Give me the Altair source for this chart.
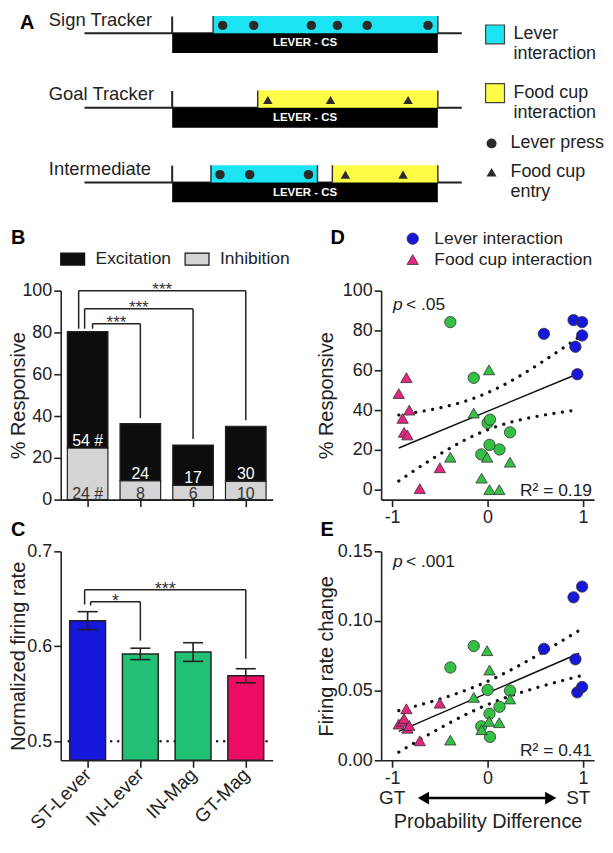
import altair as alt
import numpy as np
import pandas as pd

FONT = "Liberation Sans"
INK = "#222222"
CYAN = "#1de4f2"
YELLOW = "#fdfd45"
BLUE = "#1717dc"
GREEN_BAR = "#22c074"
PINK_BAR = "#ec0c63"
GREEN_PT = "#35bf45"
PINK_PT = "#e3267f"

# ---------------- data ----------------
# Panel A: schematic of a session (seconds relative to lever-CS onset)
a_rows = ["Sign Tracker", "Goal Tracker", "Intermediate"]
cs_on = 0.0
cs_off = 10.0
trace_start = -3.3
trace_end = 10.9
win_row = [0, 1, 2, 2]
win_kind = ["Lever interaction", "Food cup interaction", "Lever interaction", "Food cup interaction"]
win_start = [1.54, 3.22, 1.46, 6.03]
win_end = [10.0, 10.0, 5.47, 10.0]
ev_row = [0, 0, 0, 0, 0, 0, 1, 1, 1, 2, 2, 2, 2, 2]
ev_kind = ["Lever press"] * 6 + ["Food cup entry"] * 3 + ["Lever press"] * 3 + ["Food cup entry"] * 2
ev_time = [1.9, 3.07, 5.24, 6.22, 7.34, 9.63, 3.6, 5.96, 8.88, 1.8, 2.92, 5.13, 6.52, 8.69]
a_kinds = ["Lever interaction", "Food cup interaction"]
a_events = ["Lever press", "Food cup entry"]

# Panel B: % responsive neurons
groups = ["ST-Lever", "IN-Lever", "IN-Mag", "GT-Mag"]
exc_pct = [55.7, 27.3, 19.3, 26.3]
inh_pct = [24.7, 9.1, 6.8, 8.8]
exc_n = ["54 #", "24", "17", "30"]
inh_n = ["24 #", "8", "6", "10"]

# Panel C: normalized firing rate
rate_mean = [0.627, 0.592, 0.594, 0.569]
rate_sem = [0.0095, 0.006, 0.0098, 0.0074]

# Panels D/E: per-session probability difference vs % responsive / firing-rate change
st_pd = [0.59, 0.90, 0.92, 0.94, 0.99, 0.99]
st_resp = [78.3, 85.2, 71.8, 58.0, 84.2, 77.5]
st_rate = [0.080, 0.117, 0.0725, 0.0488, 0.1247, 0.0526]
gt_pd = [-0.93, -0.89, -0.875, -0.85, -0.84, -0.82, -0.50, -0.71]
gt_resp = [48.3, 35.8, 28.8, 56.3, 27.5, 40.0, 11.0, 0.5]
gt_rate = [0.026, 0.028, 0.030, 0.037, 0.023, 0.025, 0.041, 0.014]
inl_pd = [-0.39, -0.145, 0.0, 0.235, 0.125, 0.02, -0.066, 0.025]
inl_resp = [84.2, 56.2, 33.5, 28.8, 20.2, 22.5, 17.7, 35.2]
inl_rate = [0.0666, 0.082, 0.0505, 0.050, 0.0384, 0.0334, 0.0244, 0.0168]
inm_pd = [-0.39, -0.145, -0.063, -0.005, 0.015, 0.02, 0.122, 0.235]
inm_resp = [16.3, 38.5, 5.8, 16.3, 60.2, 0.0, 0.0, 13.8]
inm_rate = [0.0145, 0.0452, 0.022, 0.0787, 0.028, 0.0648, 0.027, 0.0440]
cats = ["Lever interaction", "Food cup interaction", "IN lever", "IN food cup"]


def letter(ch, x, y):
    return alt.Chart(pd.DataFrame({"t": [ch]})).mark_text(
        align="left", baseline="middle", fontSize=20, fontWeight="bold", font=FONT, color="#000"
    ).encode(x=alt.value(x), y=alt.value(y), text="t:N")


# ---------------- Panel A ----------------
A_W, A_H = 213, 229
S_PX = 26.7
ROW_PX = 75.0
ax0 = -4.195
ay0 = -0.297
xa = alt.Scale(domain=[ax0, ax0 + A_W / S_PX], nice=False, zero=False)
ya = alt.Scale(domain=[ay0, ay0 + A_H / ROW_PX], reverse=True, nice=False, zero=False)


def XA(f):
    return alt.X(f, type="quantitative", scale=xa, axis=None)


def YA(f):
    return alt.Y(f, type="quantitative", scale=ya, axis=None)


rows_df = pd.DataFrame({"row": list(range(len(a_rows))), "label": a_rows,
                        "on": cs_on, "off": cs_off, "ts": trace_start, "te": trace_end})
win_df = pd.DataFrame({"row": win_row, "kind": win_kind, "start": win_start, "end": win_end})
ev_df = pd.DataFrame({"row": ev_row, "event": ev_kind, "time": ev_time})

base_rows = alt.Chart(rows_df)
a_trace = base_rows.mark_rule(color=INK, strokeWidth=2).encode(x=XA("ts"), x2="te", y=YA("row"))
a_cs = base_rows.transform_calculate(bot="datum.row + 0.265").mark_rect(color="#000").encode(
    x=XA("on"), x2="off", y=YA("row"), y2="bot:Q")
a_tick = base_rows.transform_calculate(tk="datum.row - 0.225").mark_rule(color=INK, strokeWidth=2).encode(
    x=XA("on"), y=YA("row"), y2="tk:Q")
a_cs_txt = base_rows.transform_calculate(mid="(datum.on + datum.off) / 2", ty="datum.row + 0.135").mark_text(
    text="LEVER - CS", color="white", fontWeight="bold", fontSize=11.5, font=FONT, baseline="middle"
).encode(x=XA("mid:Q"), y=YA("ty:Q"))
a_win = alt.Chart(win_df).transform_calculate(top="datum.row - 0.232").mark_rect().encode(
    x=XA("start"), x2="end", y=YA("top:Q"), y2="row:Q",
    color=alt.Color("kind:N", scale=alt.Scale(domain=a_kinds, range=[CYAN, YELLOW]),
                    legend=alt.Legend(title=None, orient="none", legendX=426, legendY=13,
                                      symbolType="square", symbolSize=361, symbolStrokeColor="#444",
                                      symbolStrokeWidth=1.2, symbolOpacity=1, labelFontSize=18,
                                      labelOffset=8, rowPadding=17, labelColor=INK,
                                      labelExpr="[substring(datum.label, 0, lastindexof(datum.label, ' ')), "
                                                "substring(datum.label, lastindexof(datum.label, ' ') + 1)]")))
a_edges = alt.Chart(win_df).transform_fold(["start", "end"], as_=["side", "tx"]).transform_calculate(
    top="datum.row - 0.232").mark_rule(color="#333", strokeWidth=1.5).encode(
    x=XA("tx:Q"), y=YA("top:Q"), y2="row:Q")
a_ev = alt.Chart(ev_df).transform_calculate(ey="datum.row - 0.105").mark_point(
    filled=True, size=90, opacity=1, color="#2a2a2a").encode(
    x=XA("time"), y=YA("ey:Q"),
    shape=alt.Shape("event:N", scale=alt.Scale(domain=a_events, range=["circle", "triangle-up"]),
                    legend=alt.Legend(title=None, orient="none", legendX=424, legendY=124,
                                      symbolSize=100, symbolFillColor="#2a2a2a", symbolStrokeColor="#2a2a2a",
                                      labelFontSize=18, labelOffset=10, rowPadding=11, labelColor=INK,
                                      labelExpr="length(split(datum.label, ' ')) > 2 ? "
                                                "[substring(datum.label, 0, lastindexof(datum.label, ' ')), "
                                                "substring(datum.label, lastindexof(datum.label, ' ') + 1)] : datum.label")))
a_lab = base_rows.transform_calculate(ly="datum.row - 0.18").mark_text(
    align="left", baseline="middle", fontSize=18.5, font=FONT, color=INK).encode(
    x=alt.value(-12), y=YA("ly:Q"), text="label:N")

chart_a = alt.layer(a_trace, a_cs, a_win, a_edges, a_tick, a_cs_txt, a_ev, a_lab,
                    letter("A", -41, 12)).properties(width=A_W, height=A_H)

# ---------------- Panel B ----------------
B_W, B_H = 213, 210
pos = [i + 1 for i in range(len(groups))]
xb = alt.Scale(domain=[0.49, 4.51], nice=False, zero=False)
yb = alt.Scale(domain=[0, 100], nice=False)
axb_x = alt.Axis(values=pos, labels=False, title=None)
axb_y = alt.Axis(values=[0, 20, 40, 60, 80, 100], title="% Responsive", titleX=-32,
                 titleBaseline="bottom", titleAngle=270)


def XB(f):
    return alt.X(f, type="quantitative", scale=xb, axis=axb_x)


def YB(f):
    return alt.Y(f, type="quantitative", scale=yb, axis=axb_y)


tot = [i + e for i, e in zip(inh_pct, exc_pct)]
bars_b = pd.DataFrame({"pos": pos * 2, "type": ["Inhibition"] * 4 + ["Excitation"] * 4,
                       "lo": [0.0] * 4 + inh_pct, "hi": inh_pct + tot})
b_bars = alt.Chart(bars_b).transform_calculate(
    xl="datum.pos - 0.385", xr="datum.pos + 0.385").mark_rect(stroke=INK, strokeWidth=1.2).encode(
    x=XB("xl:Q"), x2="xr:Q", y=YB("lo"), y2="hi",
    color=alt.Color("type:N", scale=alt.Scale(domain=["Excitation", "Inhibition"], range=["#0d0d0d", "#d4d4d4"]),
                    legend=alt.Legend(title=None, orient="none", direction="horizontal", legendX=-1, legendY=-45,
                                      symbolType="M-1,-0.5H1V0.5H-1Z", symbolSize=576, symbolStrokeColor="#111",
                                      symbolStrokeWidth=1.2, symbolOpacity=1, labelFontSize=17.5, labelOffset=10,
                                      columnPadding=11, labelColor=INK)))
lab_b = pd.DataFrame({"pos": pos * 2, "y": [i + 1.0 for i in inh_pct] + [0.3] * 4,
                      "txt": exc_n + inh_n, "kind": ["exc"] * 4 + ["inh"] * 4})
b_lab_exc = alt.Chart(lab_b).transform_filter("datum.kind == 'exc'").mark_text(
    baseline="alphabetic", fontSize=16, font=FONT, color="white").encode(x=XB("pos"), y=YB("y"), text="txt:N")
b_lab_inh = alt.Chart(lab_b).transform_filter("datum.kind == 'inh'").mark_text(
    baseline="alphabetic", fontSize=16, font=FONT, color="#333").encode(x=XB("pos"), y=YB("y"), text="txt:N")

# significance brackets: (left x, right x, bar y, left drop, right drop, label)
br_b = [(1.094, 2, 84.2, 81.8, 39.0, "***"),
        (0.943, 3, 91.3, 81.8, 29.0, "***"),
        (0.83, 4, 100.0, 81.8, 38.0, "***")]


def bracket_frames(brs):
    seg, lab = [], []
    for xl, xr, top, yl, yr, s in brs:
        seg += [dict(x=xl, x2=xr, y=top, y2=top), dict(x=xl, x2=xl, y=yl, y2=top),
                dict(x=xr, x2=xr, y=yr, y2=top)]
        lab.append(dict(x=(xl + xr) / 2, y=top, s=s))
    return pd.DataFrame(seg), pd.DataFrame(lab)


seg_b, star_b = bracket_frames(br_b)
b_br = alt.Chart(seg_b).mark_rule(color=INK, strokeWidth=1.5).encode(x=XB("x"), x2="x2", y=YB("y"), y2="y2")
b_star = alt.Chart(star_b).mark_text(baseline="alphabetic", dy=4, fontSize=17, font=FONT, color="#333").encode(
    x=XB("x"), y=YB("y"), text="s:N")

chart_b = alt.layer(b_bars, b_lab_exc, b_lab_inh, b_br, b_star, letter("B", -50, -53)).properties(
    width=B_W, height=B_H)

# ---------------- Panel C ----------------
C_W, C_H = 213, 210
yc = alt.Scale(domain=[0.48, 0.70], nice=False, zero=False)
lab_expr = "[" + ", ".join("'%s'" % g for g in groups) + "][datum.value - 1]"
axc_x = alt.Axis(values=pos, labelExpr=lab_expr, title=None, labelAngle=315, labelAlign="right",
                 labelBaseline="middle", labelFontSize=19, labelPadding=4, labelOverlap=False)
axc_y = alt.Axis(values=[0.5, 0.6, 0.7], format=".1f", title="Normalized firing rate", titleX=-32,
                 titleBaseline="bottom", titleAngle=270)


def XC(f):
    return alt.X(f, type="quantitative", scale=xb, axis=axc_x)


def YC(f):
    return alt.Y(f, type="quantitative", scale=yc, axis=axc_y)


c_df = pd.DataFrame({"pos": pos, "grp": groups, "m": rate_mean, "se": rate_sem})
c_base = alt.Chart(c_df).transform_calculate(
    xl="datum.pos - 0.34", xr="datum.pos + 0.34", lo="datum.m - datum.se", hi="datum.m + datum.se",
    cl="datum.pos - 0.19", cr="datum.pos + 0.19")
c_bars = c_base.mark_rect(stroke=INK, strokeWidth=1.5).encode(
    x=XC("xl:Q"), x2="xr:Q", y=YC("m"), y2=alt.datum(0.48),
    color=alt.Color("grp:N", scale=alt.Scale(domain=groups, range=[BLUE, GREEN_BAR, GREEN_BAR, PINK_BAR]),
                    legend=None))
c_err = c_base.mark_rule(color=INK, strokeWidth=1.6).encode(x=XC("pos"), y=YC("lo:Q"), y2="hi:Q")
c_cap = c_base.transform_fold(["lo", "hi"], as_=["end", "ey"]).mark_rule(color=INK, strokeWidth=1.6).encode(
    x=XC("cl:Q"), x2="cr:Q", y=YC("ey:Q"))
c_chance = alt.Chart(pd.DataFrame({"v": [0.5]})).mark_rule(
    color=INK, strokeWidth=2.6, strokeDash=[0.1, 7], strokeCap="round").encode(
    y=YC("v"), x=alt.value(8), x2=alt.value(211))
br_c = [(1.057, 2, 0.647, 0.643, 0.606, "*"),
        (0.943, 4, 0.6595, 0.644, 0.587, "***")]
seg_c, star_c = bracket_frames(br_c)
c_br = alt.Chart(seg_c).mark_rule(color=INK, strokeWidth=1.5).encode(x=XC("x"), x2="x2", y=YC("y"), y2="y2")
c_star = alt.Chart(star_c).mark_text(baseline="alphabetic", dy=5, fontSize=18, font=FONT, color="#333").encode(
    x=XC("x"), y=YC("y"), text="s:N")

chart_c = alt.layer(c_chance, c_bars, c_err, c_cap, c_br, c_star, letter("C", -50, -21)).properties(
    width=C_W, height=C_H)

# ---------------- Panels D / E ----------------
D_W, D_H = 214, 210
E_H = 210
xd = alt.Scale(domain=[-1.115, 1.115], nice=False, zero=False)
axd_x = alt.Axis(values=[-1, 0, 1], title=None, labelExpr="replace(datum.label, '\u2212', '-')")
axe_x = alt.Axis(values=[-1, 0, 1], title="Probability Difference", titleBaseline="top", titleY=52,
                 labelExpr="replace(datum.label, '\u2212', '-')")

sc_df = pd.DataFrame({
    "pd": st_pd + gt_pd + inl_pd + inm_pd,
    "resp": st_resp + gt_resp + inl_resp + inm_resp,
    "rate": st_rate + gt_rate + inl_rate + inm_rate,
    "cat": [cats[0]] * len(st_pd) + [cats[1]] * len(gt_pd) + [cats[2]] * len(inl_pd) + [cats[3]] * len(inm_pd),
})

reg_extent = [-0.93, 0.96]


def ci_frame(x, y):
    x = np.asarray(x, float)
    y = np.asarray(y, float)
    n = len(x)
    b, a = np.polyfit(x, y, 1)
    s = np.sqrt(((y - (a + b * x)) ** 2).sum() / (n - 2))
    sxx = ((x - x.mean()) ** 2).sum()
    xs = np.linspace(reg_extent[0], reg_extent[1], 40)
    fit = a + b * xs
    half = 2.048 * s * np.sqrt(1.0 / n + (xs - x.mean()) ** 2 / sxx)
    return pd.DataFrame({"x": xs, "lo": fit - half, "hi": fit + half})


leg_d = dict(values=cats[:2], title=None, orient="none", legendX=23, legendY=-61, labelFontSize=17.5,
             symbolSize=130, rowPadding=2, labelOffset=13, symbolStrokeColor="#333", symbolStrokeWidth=0.8,
             labelColor=INK)


def scatter_panel(yfield, yscale, yaxis, xaxis, p_txt, r2_txt, r2_y, p_y, with_legend):
    def X(f):
        return alt.X(f, type="quantitative", scale=xd, axis=xaxis)

    def Y(f):
        return alt.Y(f, type="quantitative", scale=yscale, axis=yaxis)

    ci = ci_frame(sc_df["pd"], sc_df[yfield])
    dots = dict(color="#111", strokeWidth=3.2, strokeDash=[0.1, 8.5], strokeCap="round")
    ci_lo = alt.Chart(ci).mark_line(**dots).encode(x=X("x"), y=Y("lo"))
    ci_hi = alt.Chart(ci).mark_line(**dots).encode(x=X("x"), y=Y("hi"))
    reg = alt.Chart(sc_df).transform_regression("pd", yfield, extent=reg_extent).mark_line(
        color="#111", strokeWidth=1.5).encode(x=X("pd"), y=Y(yfield))
    leg = alt.Legend(**leg_d) if with_legend else None
    pts = alt.Chart(sc_df).mark_point(filled=True, size=130, opacity=1, stroke="#333", strokeWidth=0.8).encode(
        x=X("pd"), y=Y(yfield),
        color=alt.Color("cat:N", scale=alt.Scale(domain=cats, range=[BLUE, PINK_PT, GREEN_PT, GREEN_PT]),
                        legend=leg),
        shape=alt.Shape("cat:N", scale=alt.Scale(domain=cats, range=["circle", "triangle-up", "circle", "triangle-up"]),
                        legend=leg))
    txt = pd.DataFrame({"t": [0]})
    p1 = alt.Chart(txt).mark_text(text="p", fontStyle="italic", align="left", baseline="middle",
                                  fontSize=17.5, font=FONT, color=INK).encode(x=alt.value(12), y=alt.value(p_y))
    p2 = alt.Chart(txt).mark_text(text=p_txt, align="left", baseline="middle",
                                  fontSize=17.5, font=FONT, color=INK).encode(x=alt.value(25), y=alt.value(p_y))
    r2 = alt.Chart(txt).mark_text(text=r2_txt, align="right", baseline="middle",
                                  fontSize=17.5, font=FONT, color=INK).encode(x=alt.value(212), y=alt.value(r2_y))
    return [ci_lo, ci_hi, reg, pts, p1, p2, r2]


axd_y = alt.Axis(values=[0, 20, 40, 60, 80, 100], title="% Responsive", titleX=-45,
                 titleBaseline="bottom", titleAngle=270)
axe_y = alt.Axis(values=[0, 0.05, 0.10, 0.15], format=".2f", title="Firing rate change", titleX=-45,
                 titleBaseline="bottom", titleAngle=270)

d_layers = scatter_panel("resp", alt.Scale(domain=[-5, 100], nice=False, zero=False), axd_y, axd_x,
                         "< .05", "R\u00b2 = 0.19", 201, 14, True)
chart_d = alt.layer(*d_layers, letter("D", -51, -53)).properties(width=D_W, height=D_H)

e_layers = scatter_panel("rate", alt.Scale(domain=[0, 0.15], nice=False), axe_y, axe_x,
                         "< .001", "R\u00b2 = 0.41", 201, 11, False)

# GT <-> ST direction arrow under panel E
ARROW_Y = 248
e_shaft = alt.Chart(pd.DataFrame({"x": [-0.672], "x2": [0.661]})).mark_rule(color="#000", strokeWidth=2.5).encode(
    x=alt.X("x:Q", scale=xd, axis=axe_x), x2="x2:Q", y=alt.value(ARROW_Y))
e_head_l = alt.Chart(pd.DataFrame({"x": [-0.672]})).mark_point(
    shape="triangle-left", filled=True, size=169, opacity=1, color="#000").encode(
    x=alt.X("x:Q", scale=xd, axis=axe_x), y=alt.value(ARROW_Y))
e_head_r = alt.Chart(pd.DataFrame({"x": [0.661]})).mark_point(
    shape="triangle-right", filled=True, size=169, opacity=1, color="#000").encode(
    x=alt.X("x:Q", scale=xd, axis=axe_x), y=alt.value(ARROW_Y))
ends_df = pd.DataFrame({"x": [-1.0, 0.95], "t": ["GT", "ST"]})
e_ends = alt.Chart(ends_df).mark_text(baseline="middle", fontSize=19, font=FONT, color=INK).encode(
    x=alt.X("x:Q", scale=xd, axis=axe_x), y=alt.value(ARROW_Y), text="t:N")

chart_e = alt.layer(*e_layers, e_shaft, e_head_l, e_head_r, e_ends, letter("E", -61, -21)).properties(
    width=D_W, height=E_H)

blank = alt.Chart(pd.DataFrame({"v": [0]})).mark_point(opacity=0).encode(
    x=alt.X("v:Q", axis=None), y=alt.Y("v:Q", axis=None)).properties(width=D_W, height=100)

chart = alt.concat(
    chart_a, blank, chart_b, chart_d, chart_c, chart_e,
    columns=2, spacing={"row": 52, "column": 109}, bounds="flush"
).resolve_scale(color="independent", shape="independent").properties(padding=0).configure(
    font=FONT
).configure_view(stroke=None).configure_axis(
    grid=False, domainColor=INK, domainWidth=1.6, tickColor=INK, tickWidth=1.6, tickSize=7,
    labelFont=FONT, labelFontSize=18, labelColor=INK, labelPadding=2,
    titleFont=FONT, titleFontSize=20, titleFontWeight="normal", titleColor=INK
).configure_legend(labelFont=FONT, labelColor=INK, titleFont=FONT)

chart.save("out.html", embed_options={"renderer": "svg", "actions": False})
